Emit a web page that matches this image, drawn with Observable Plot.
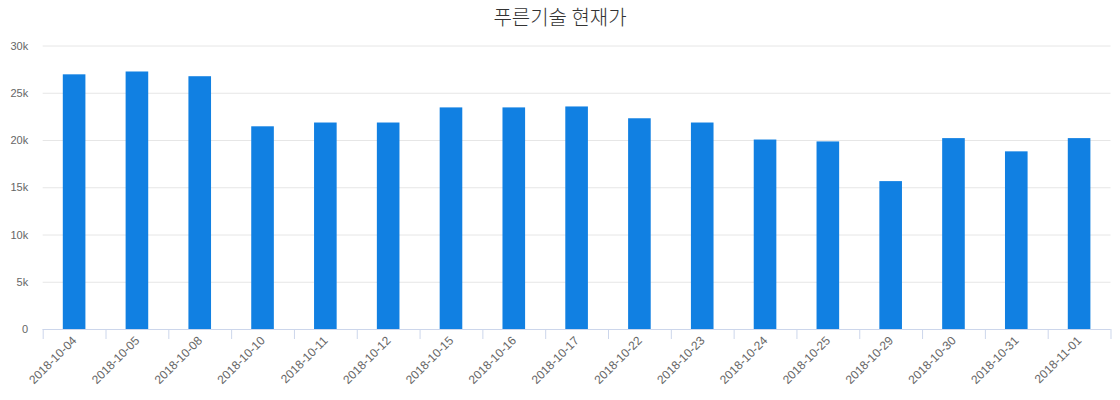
<!DOCTYPE html>
<html>
<head>
<meta charset="utf-8">
<script src="https://cdn.jsdelivr.net/npm/d3@7"></script>
<script src="https://cdn.jsdelivr.net/npm/@observablehq/plot@0.6"></script>
<style>
  html, body { margin: 0; padding: 0; background: #fff; }
  #title { height: 36px; line-height: 34px; text-align: center; font-family: "Noto Sans CJK KR", "Liberation Sans", sans-serif; font-size: 20px; color: #333; font-weight: 300; }
  svg { display: block; }
</style>
</head>
<body>
<div id="title">푸른기술 현재가</div>
<div id="chart"></div>
<script>
const title = "푸른기술 현재가";
const dates = ["2018-10-04","2018-10-05","2018-10-08","2018-10-10","2018-10-11","2018-10-12","2018-10-15","2018-10-16","2018-10-17","2018-10-22","2018-10-23","2018-10-24","2018-10-25","2018-10-29","2018-10-30","2018-10-31","2018-11-01"];
const prices = [26950, 27250, 26750, 21450, 21850, 21850, 23450, 23450, 23550, 22300, 21850, 20050, 19850, 15650, 20200, 18800, 20200];
const yTicks = [0, 5000, 10000, 15000, 20000, 25000, 30000];
const yTickLabels = ["0", "5k", "10k", "15k", "20k", "25k", "30k"];

const data = dates.map((d, i) => ({date: d, price: prices[i]}));

const W = 1120, H = 364;
const mL = 42.7, mR = 9.5, mT = 9.5, mB = 71;
const step = (W - mL - mR) / dates.length;

const font = "'Liberation Sans', Arial, sans-serif";

const chart = Plot.plot({
  width: W,
  height: H,
  marginLeft: mL,
  marginRight: mR,
  marginTop: mT,
  marginBottom: mB,
  style: { fontFamily: font, fontSize: "11px", color: "#666", background: "#fff" },
  x: { domain: dates, paddingInner: 0.64, paddingOuter: 0.32, round: false, label: null },
  y: { domain: [0, 30000], label: null },
  marks: [
    Plot.gridY(yTicks, { stroke: "#e6e6e6", strokeOpacity: 1 }),
    Plot.barY(data, { x: "date", y: "price", fill: "#1180e2" }),
    Plot.ruleY([0], { stroke: "#ccd6eb", strokeWidth: 1 }),
    Plot.ruleX(dates, { x: d => d, y1: 0, y2: 0, insetBottom: -10, dx: -step / 2, stroke: "#ccd6eb" }),
    Plot.ruleX(dates.slice(-1), { x: d => d, y1: 0, y2: 0, insetBottom: -10, dx: step / 2, stroke: "#ccd6eb" }),
    Plot.axisY(yTicks, { tickSize: 0, tickPadding: 15, tickFormat: (d) => yTickLabels[yTicks.indexOf(d)], fill: "#666", fontSize: 11 }),
    Plot.axisX({ tickSize: 0, tickPadding: 9, tickRotate: -45, fill: "#666", fontSize: 12, label: null })
  ]
});
document.getElementById("chart").appendChild(chart);
</script>
</body>
</html>
